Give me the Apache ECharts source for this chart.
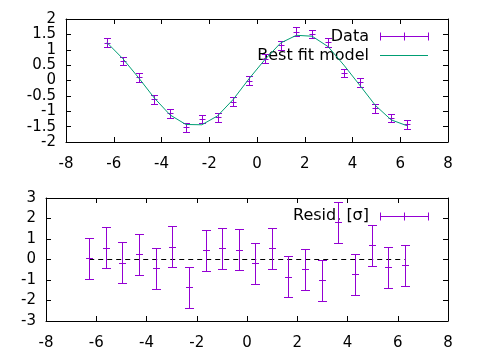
<!DOCTYPE html>
<html>
<head>
<meta charset="utf-8">
<script src="https://cdn.jsdelivr.net/npm/echarts@6/dist/echarts.min.js"></script>
<style>html,body{margin:0;padding:0;background:#fff}#c{width:480px;height:360px}</style>
</head>
<body>
<div id="c"></div>
<script>
const xs = [-6.28,-5.62,-4.96,-4.30,-3.64,-2.98,-2.31,-1.65,-0.99,-0.33,0.33,0.99,1.65,2.31,2.98,3.64,4.30,4.96,5.62,6.28];
const yData = [1.23,0.64,0.10,-0.61,-1.07,-1.52,-1.25,-1.20,-0.69,0.00,0.71,1.14,1.59,1.51,1.24,0.25,-0.06,-0.91,-1.22,-1.43];
const yErr = [0.14,0.14,0.14,0.14,0.14,0.14,0.14,0.14,0.14,0.14,0.14,0.14,0.14,0.14,0.14,0.14,0.14,0.14,0.14,0.14];
const model = [1.23,0.71,0.09,-0.57,-1.12,-1.43,-1.44,-1.15,-0.61,0.06,0.68,1.22,1.47,1.44,1.10,0.50,-0.15,-0.81,-1.28,-1.47];
const resid = [0.05,0.57,-0.15,0.25,-0.43,0.63,-1.35,0.45,0.55,0.47,-0.19,0.55,-0.83,-0.48,-1.00,1.81,-0.73,0.69,-0.39,-0.28];
const residErr = [1,1,1,1,1,1,1,1,1,1,1,1,1,1,1,1,1,1,1,1];
const zeroLine = [[-6.28,0],[6.28,0]];
const xTicks = {min:-8, max:8, interval:2};
const yTopTicks = {min:-2, max:2, interval:0.5};
const yBotTicks = {min:-3, max:3, interval:1};

const PURPLE = '#9400d3', GREEN = '#009e73';
const FONT = 'DejaVu Sans';
const chart = echarts.init(document.getElementById('c'));

function px(v){ return Math.round(v) + 0.5; }
function errRender(cap, plus){
  return function(params, api){
    const x = api.value(0), y = api.value(1), e = api.value(2);
    const hi = api.coord([x, y + e]), lo = api.coord([x, y - e]), c = api.coord([x, y]);
    const cx = px(c[0]);
    const st = {stroke: PURPLE, lineWidth: 1, fill: null};
    return {type:'group', children:[
      {type:'line', shape:{x1:cx, y1:px(hi[1]), x2:cx, y2:px(lo[1])}, style:st},
      {type:'line', shape:{x1:cx-cap, y1:px(hi[1]), x2:cx+cap, y2:px(hi[1])}, style:st},
      {type:'line', shape:{x1:cx-cap, y1:px(lo[1]), x2:cx+cap, y2:px(lo[1])}, style:st},
      {type:'line', shape:{x1:cx-plus, y1:px(c[1]), x2:cx+plus, y2:px(c[1])}, style:st}
    ]};
  };
}

function xAx(grid, pos, show){
  return {type:'value', gridIndex:grid, position:pos, min:xTicks.min, max:xTicks.max, interval:xTicks.interval,
    axisLine:{show:true, onZero:false, lineStyle:{color:'#000', width:1}},
    axisTick:{show:true, inside:true, length:5, lineStyle:{color:'#000'}},
    axisLabel:{show:show, color:'#000', fontSize:15, fontFamily:FONT, margin:15},
    splitLine:{show:false}};
}
function yAx(grid, pos, show, t){
  return {type:'value', gridIndex:grid, position:pos, min:t.min, max:t.max, interval:t.interval,
    axisLine:{show:true, onZero:false, lineStyle:{color:'#000', width:1}},
    axisTick:{show:true, inside:true, length:5, lineStyle:{color:'#000'}},
    axisLabel:{show:show, color:'#000', fontSize:15, fontFamily:FONT, margin:10},
    splitLine:{show:false}};
}

const topData = xs.map((x,i)=>[x, yData[i], yErr[i]]);
const botData = xs.map((x,i)=>[x, resid[i], residErr[i]]);
const modelData = xs.map((x,i)=>[x, model[i]]);

function legendErr(x1, x2, y, h){
  const st = {stroke: PURPLE, lineWidth: 1};
  const m = (x1+x2)/2;
  return [
    {type:'line', shape:{x1:x1, y1:y, x2:x2, y2:y}, style:st},
    {type:'line', shape:{x1:x1, y1:y-h, x2:x1, y2:y+h}, style:st},
    {type:'line', shape:{x1:m, y1:y-h, x2:m, y2:y+h}, style:st},
    {type:'line', shape:{x1:x2, y1:y-h, x2:x2, y2:y+h}, style:st}
  ];
}
function legendText(t, x, y){
  return {type:'text', x:x, y:y, style:{text:t, fill:'#000', fontSize:16, fontFamily:FONT, align:'right', verticalAlign:'middle'}};
}

chart.setOption({
  animation:false,
  backgroundColor:'#fff',
  grid:[
    {left:66, right:32, top:19, height:123},
    {left:46, right:32, top:198, height:123}
  ],
  xAxis:[xAx(0,'bottom',true), xAx(0,'top',false), xAx(1,'bottom',true), xAx(1,'top',false)],
  yAxis:[yAx(0,'left',true,yTopTicks), yAx(0,'right',false,yTopTicks), yAx(1,'left',true,yBotTicks), yAx(1,'right',false,yBotTicks)],
  series:[
    {type:'custom', xAxisIndex:0, yAxisIndex:0, data:topData, renderItem:errRender(3.5,3), encode:{x:0,y:1}, z:3},
    {type:'line', xAxisIndex:0, yAxisIndex:0, data:modelData, symbol:'none', lineStyle:{color:GREEN, width:1}, z:4},
    {type:'line', xAxisIndex:2, yAxisIndex:2, data:zeroLine, symbol:'none', lineStyle:{color:'#000', width:1, type:[5,4]}, z:2},
    {type:'custom', xAxisIndex:2, yAxisIndex:2, data:botData, renderItem:errRender(4.5,3.5), encode:{x:0,y:1}, z:3}
  ],
  graphic:[
    legendText('Data', 369, 37),
    ...legendErr(380.5, 428.5, 36.5, 4),
    legendText('Best fit model', 369, 56),
    {type:'line', shape:{x1:380, y1:55.5, x2:428, y2:55.5}, style:{stroke:GREEN, lineWidth:1}},
    legendText('Resid. [σ]', 369, 216),
    ...legendErr(380.5, 428.5, 216.5, 4)
  ]
});
</script>
</body>
</html>
